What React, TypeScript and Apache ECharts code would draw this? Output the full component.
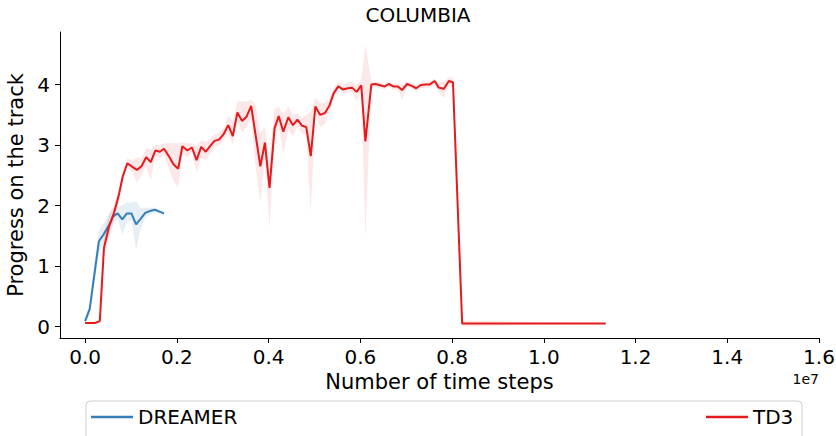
import React, { useEffect, useRef } from "react";
import * as echarts from "echarts";

// x values in units of 1e7 time steps
const dreamerSteps = [0.0, 0.01, 0.02, 0.03, 0.04, 0.051, 0.061, 0.071, 0.081, 0.091, 0.101, 0.111, 0.121, 0.131, 0.141, 0.152, 0.162, 0.172];
const dreamerMean = [0.09, 0.29, 0.85, 1.41, 1.52, 1.66, 1.82, 1.87, 1.77, 1.87, 1.87, 1.69, 1.78, 1.88, 1.91, 1.93, 1.9, 1.87];
const dreamerLow = [0.05, 0.2, 0.7, 1.2, 1.35, 1.5, 1.7, 1.78, 1.52, 1.72, 1.75, 1.27, 1.6, 1.8, 1.85, 1.88, 1.86, 1.83];
const dreamerHigh = [0.13, 0.4, 1.05, 1.6, 1.7, 1.85, 1.95, 1.98, 2.0, 2.05, 2.05, 2.07, 1.95, 1.97, 1.96, 1.97, 1.94, 1.9];

const td3Steps = [
  0.0, 0.011, 0.022, 0.032, 0.041, 0.052, 0.063, 0.073, 0.082, 0.092,
  0.103, 0.113, 0.123, 0.133, 0.143, 0.153, 0.163, 0.172, 0.183, 0.193,
  0.203, 0.212, 0.223, 0.233, 0.243, 0.253, 0.263, 0.272, 0.282, 0.292,
  0.302, 0.312, 0.322, 0.332, 0.342, 0.352, 0.362, 0.372, 0.382, 0.392,
  0.402, 0.413, 0.422, 0.432, 0.443, 0.453, 0.463, 0.473, 0.482, 0.492,
  0.502, 0.512, 0.523, 0.533, 0.542, 0.552, 0.562, 0.573, 0.582, 0.592,
  0.602, 0.611, 0.624, 0.633, 0.643, 0.653, 0.662, 0.672, 0.682, 0.691,
  0.702, 0.712, 0.722, 0.731, 0.741, 0.751, 0.762, 0.771, 0.782, 0.793,
  0.802, 0.822, 1.135,
];
const td3Mean = [
  0.06, 0.06, 0.06, 0.09, 1.3, 1.65, 1.88, 2.16, 2.48, 2.7,
  2.64, 2.59, 2.65, 2.8, 2.72, 2.91, 2.89, 2.94, 2.81, 2.68,
  2.61, 2.98, 2.91, 2.96, 2.75, 2.97, 2.89, 2.98, 3.07, 3.09,
  3.18, 3.33, 3.15, 3.54, 3.4, 3.47, 3.65, 3.15, 2.65, 3.04,
  2.29, 3.28, 3.48, 3.22, 3.46, 3.33, 3.42, 3.32, 3.3, 2.82,
  3.64, 3.5, 3.53, 3.66, 3.86, 3.97, 3.92, 3.94, 3.95, 3.88,
  3.99, 3.06, 4.0, 4.01, 3.99, 3.97, 4.01, 3.97, 3.97, 3.91,
  4.01, 3.98, 3.94, 3.99, 4.0, 4.0, 4.06, 3.95, 3.93, 4.06,
  4.04, 0.05, 0.05,
];
const td3Low = [
  0.04, 0.04, 0.04, 0.06, 1.15, 1.45, 1.75, 2.05, 2.4, 2.62,
  2.55, 2.38, 2.5, 2.65, 2.42, 2.82, 2.78, 2.85, 2.6, 2.4,
  2.3, 2.85, 2.8, 2.88, 2.55, 2.8, 2.75, 2.85, 2.97, 3.0,
  3.07, 3.2, 3.0, 3.4, 3.2, 3.3, 3.45, 2.6, 2.07, 2.8,
  1.63, 3.05, 3.3, 2.87, 3.25, 3.15, 3.3, 3.2, 3.15, 1.88,
  3.5, 3.3, 3.35, 3.55, 3.78, 3.9, 3.85, 3.87, 3.87, 3.72,
  3.92, 1.47, 3.94, 3.96, 3.94, 3.92, 3.96, 3.92, 3.92, 3.76,
  3.96, 3.93, 3.88, 3.94, 3.95, 3.95, 4.0, 3.87, 3.78, 4.0,
  3.96, 0.0, 0.05,
];
const td3High = [
  0.08, 0.08, 0.08, 0.12, 1.55, 1.85, 2.0, 2.25, 2.55, 2.78,
  2.75, 2.8, 2.78, 2.95, 2.92, 3.0, 3.0, 3.03, 3.03, 3.03,
  3.03, 3.05, 3.03, 3.03, 2.98, 3.08, 3.05, 3.1, 3.18, 3.2,
  3.28, 3.48, 3.4, 3.72, 3.72, 3.72, 3.75, 3.65, 3.2, 3.3,
  2.75, 3.6, 3.64, 3.5, 3.64, 3.5, 3.52, 3.45, 3.5, 3.55,
  3.78, 3.7, 3.7, 3.78, 3.95, 4.05, 4.0, 4.03, 4.05, 4.0,
  4.08, 4.66, 4.05, 4.05, 4.03, 4.02, 4.06, 4.02, 4.02, 4.0,
  4.06, 4.03, 4.0, 4.04, 4.05, 4.05, 4.1, 4.03, 4.05, 4.12,
  4.12, 0.1, 0.05,
];

const xTicks = [0, 0.2, 0.4, 0.6, 0.8, 1.0, 1.2, 1.4, 1.6];
const yTicks = [0, 1, 2, 3, 4];

const FONT = "DejaVu Sans";
const BLUE = "#377eb8";
const RED = "#e41a1c";

function zip(xs: number[], ys: number[]) {
  return xs.map((x, i) => [x, ys[i]]);
}

function bandSeries(name: string, xs: number[], lo: number[], hi: number[], fill: string) {
  return {
    name,
    type: "custom",
    silent: true,
    z: 1,
    clip: true,
    data: xs.map((x, i) => [x, lo[i], hi[i]]),
    encode: { x: 0, y: [1, 2] },
    renderItem: (params: any, api: any) => {
      if (params.dataIndex !== 0) return null;
      const upper = xs.map((x, i) => api.coord([x, hi[i]]));
      const lower = xs.map((x, i) => api.coord([x, lo[i]])).reverse();
      return {
        type: "polygon",
        shape: { points: upper.concat(lower) },
        style: { fill, stroke: "none" },
      };
    },
  };
}

export default function App() {
  const ref = useRef<HTMLDivElement>(null);
  useEffect(() => {
    if (!ref.current) return;
    document.body.style.margin = "0";
    const chart = echarts.init(ref.current, null, { renderer: "svg" });
    const legendCommon = {
      orient: "horizontal",
      top: 407,
      icon: "rect",
      itemWidth: 42,
      itemHeight: 2.5,
      padding: 0,
      textStyle: { fontFamily: FONT, fontSize: 20, color: "#000" },
    };
    chart.setOption({
      animation: false,
      backgroundColor: "#fff",
      title: {
        text: "COLUMBIA",
        left: "center",
        top: 0,
        padding: [5, 5],
        textStyle: { fontFamily: FONT, fontSize: 20, fontWeight: "normal", color: "#000" },
      },
      grid: { left: 60, right: 17, top: 32, bottom: 98, containLabel: false, outerBoundsMode: "none" },
      legend: [
        { ...legendCommon, data: ["DREAMER"], left: 91 },
        { ...legendCommon, data: ["TD3"], left: 706 },
      ],
      xAxis: {
        type: "value",
        min: -0.0548,
        max: 1.6,
        name: "Number of time steps",
        nameLocation: "middle",
        nameGap: 33,
        nameTextStyle: { fontFamily: FONT, fontSize: 21, color: "#000" },
        axisLine: { show: true, onZero: false, lineStyle: { color: "#000", width: 1 } },
        axisTick: { show: true, length: 5, inside: false, customValues: xTicks, lineStyle: { color: "#000" } },
        axisLabel: {
          customValues: xTicks,
          formatter: (v: number) => v.toFixed(1),
          fontFamily: FONT,
          fontSize: 20,
          color: "#000",
          margin: 9,
        },
        splitLine: { show: false },
      },
      yAxis: {
        type: "value",
        min: -0.19,
        max: 4.87,
        name: "Progress on the track",
        nameLocation: "middle",
        nameGap: 33,
        nameTextStyle: { fontFamily: FONT, fontSize: 21, color: "#000" },
        axisLine: { show: true, onZero: false, lineStyle: { color: "#000", width: 1 } },
        axisTick: { show: true, length: 5, inside: false, customValues: yTicks, lineStyle: { color: "#000" } },
        axisLabel: {
          customValues: yTicks,
          formatter: (v: number) => String(v),
          fontFamily: FONT,
          fontSize: 20,
          color: "#000",
          margin: 10,
        },
        splitLine: { show: false },
      },
      graphic: [
        {
          type: "rect",
          shape: { x: 86, y: 401, width: 716, height: 60, r: 4 },
          style: { fill: "rgba(255,255,255,0.8)", stroke: "#cccccc", lineWidth: 1 },
          z: 0,
          silent: true,
        },
        {
          type: "text",
          x: 819,
          y: 386,
          style: { text: "1e7", fontFamily: FONT, fontSize: 14, fill: "#000", textAlign: "right", textVerticalAlign: "bottom" },
          silent: true,
        },
      ],
      series: [
        bandSeries("dreamerBand", dreamerSteps, dreamerLow, dreamerHigh, "rgba(55,126,184,0.12)"),
        bandSeries("td3Band", td3Steps, td3Low, td3High, "rgba(228,26,28,0.1)"),
        {
          name: "DREAMER",
          type: "line",
          data: zip(dreamerSteps, dreamerMean),
          symbol: "none",
          color: BLUE,
          lineStyle: { color: BLUE, width: 2 },
          z: 3,
        },
        {
          name: "TD3",
          type: "line",
          data: zip(td3Steps, td3Mean),
          symbol: "none",
          color: RED,
          lineStyle: { color: RED, width: 2 },
          z: 4,
        },
      ],
    });
    return () => chart.dispose();
  }, []);
  return <div ref={ref} style={{ width: 836, height: 436 }} />;
}
